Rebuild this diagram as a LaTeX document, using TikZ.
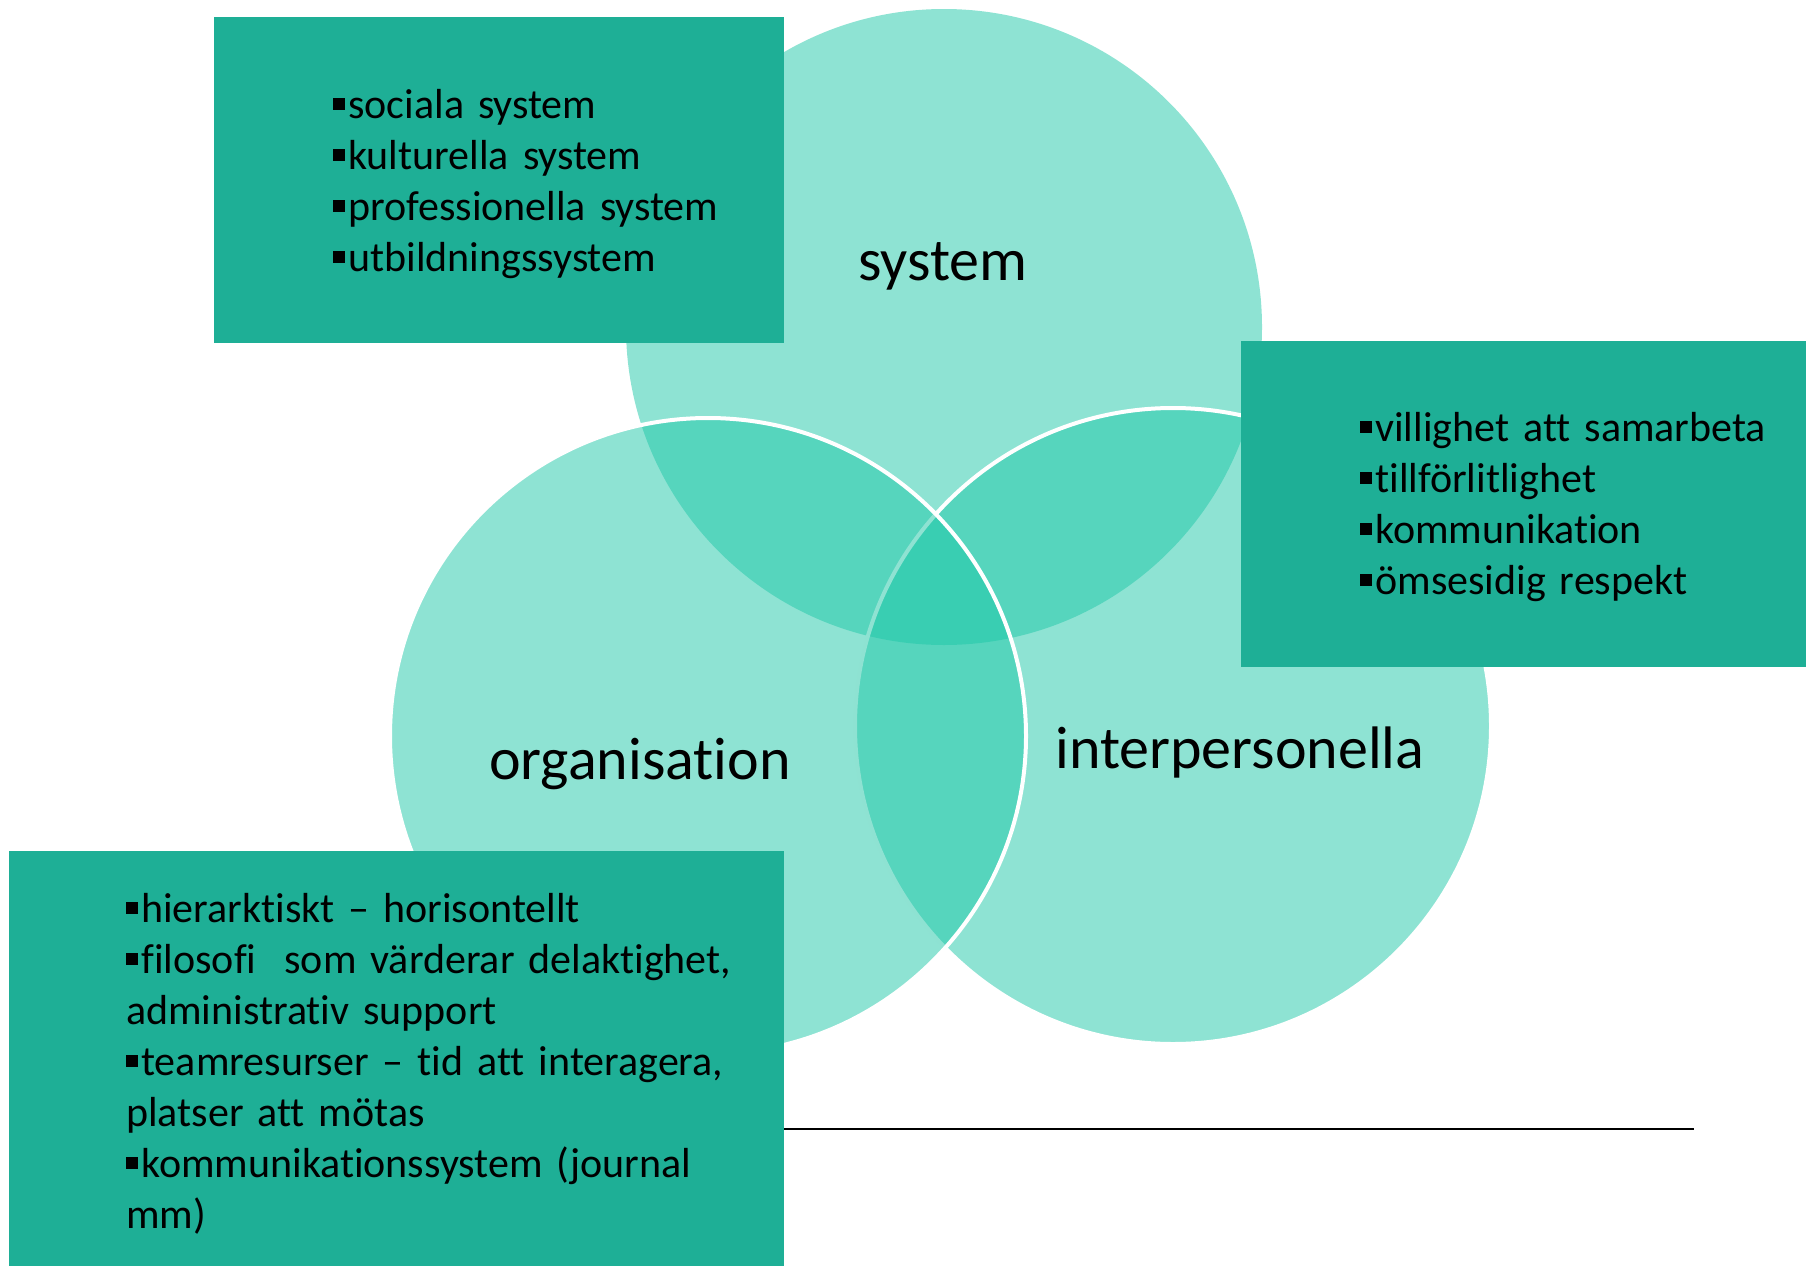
\documentclass[tikz,border=0pt]{standalone}
\usepackage{fontspec}
\setmainfont{Carlito}[RawFeature={-liga;-clig;-calt;-dlig}]
\definecolor{venn}{RGB}{30,199,167}
\definecolor{boxgreen}{RGB}{30,175,150}
\newcommand\sqbullet{\rule[0.19em]{0.29em}{0.29em}\hspace{0.07em}}

\begin{document}
\begin{tikzpicture}[x=1pt,y=-1pt,
  ring/.style={fill=venn,fill opacity=0.5},
  rim/.style={draw=white,line width=4pt},
  infobox/.style={fill=boxgreen},
  boxtext/.style={anchor=base west,inner sep=0pt,text width=700pt,align=left,font=\fontsize{42}{51}\selectfont},
  biglabel/.style={anchor=base,inner sep=0pt,font=\fontsize{60}{72}\selectfont}]

\useasboundingbox (0,0) rectangle (1806,1266);

% circles
\coordinate (sys) at (944,327);
\coordinate (inter) at (1173,726);
\coordinate (org) at (708,736);
\fill[ring] (sys) circle[radius=318pt];
\draw[ring,rim] (inter) circle[radius=318pt];
\draw[ring,rim] (org) circle[radius=318pt];

% line under the diagram
\coordinate (linestart) at (784,1129);
\coordinate (lineend) at (1694,1129);
\draw[line width=2pt] (linestart) -- (lineend);

% boxes
\fill[infobox] (214,17) rectangle (784,343);
\fill[infobox] (1241,341) rectangle (1806,667);
\fill[infobox] (9,851) rectangle (784,1266);

\node[boxtext] (systext) at (333,118) {\sqbullet sociala system\\
\sqbullet kulturella system\\
\sqbullet professionella system\\
\sqbullet utbildningssystem};

\node[boxtext] (intertext) at (1360,441) {\sqbullet villighet att samarbeta\\
\sqbullet tillförlitlighet\\
\sqbullet kommunikation\\
\sqbullet ömsesidig respekt};

\node[boxtext] (orgtext) at (126,922) {\sqbullet hierarktiskt – horisontellt\\
\sqbullet filosofi\ \ som värderar delaktighet,\\
administrativ support\\
\sqbullet teamresurser – tid att interagera,\\
platser att mötas\\
\sqbullet kommunikationssystem (journal\\
mm)};

% labels
\node[biglabel] (syslabel) at (943,280) {system};
\node[biglabel] (orglabel) at (640,779) {organisation};
\node[biglabel] (interlabel) at (1240,768) {interpersonella};

\end{tikzpicture}
\end{document}
